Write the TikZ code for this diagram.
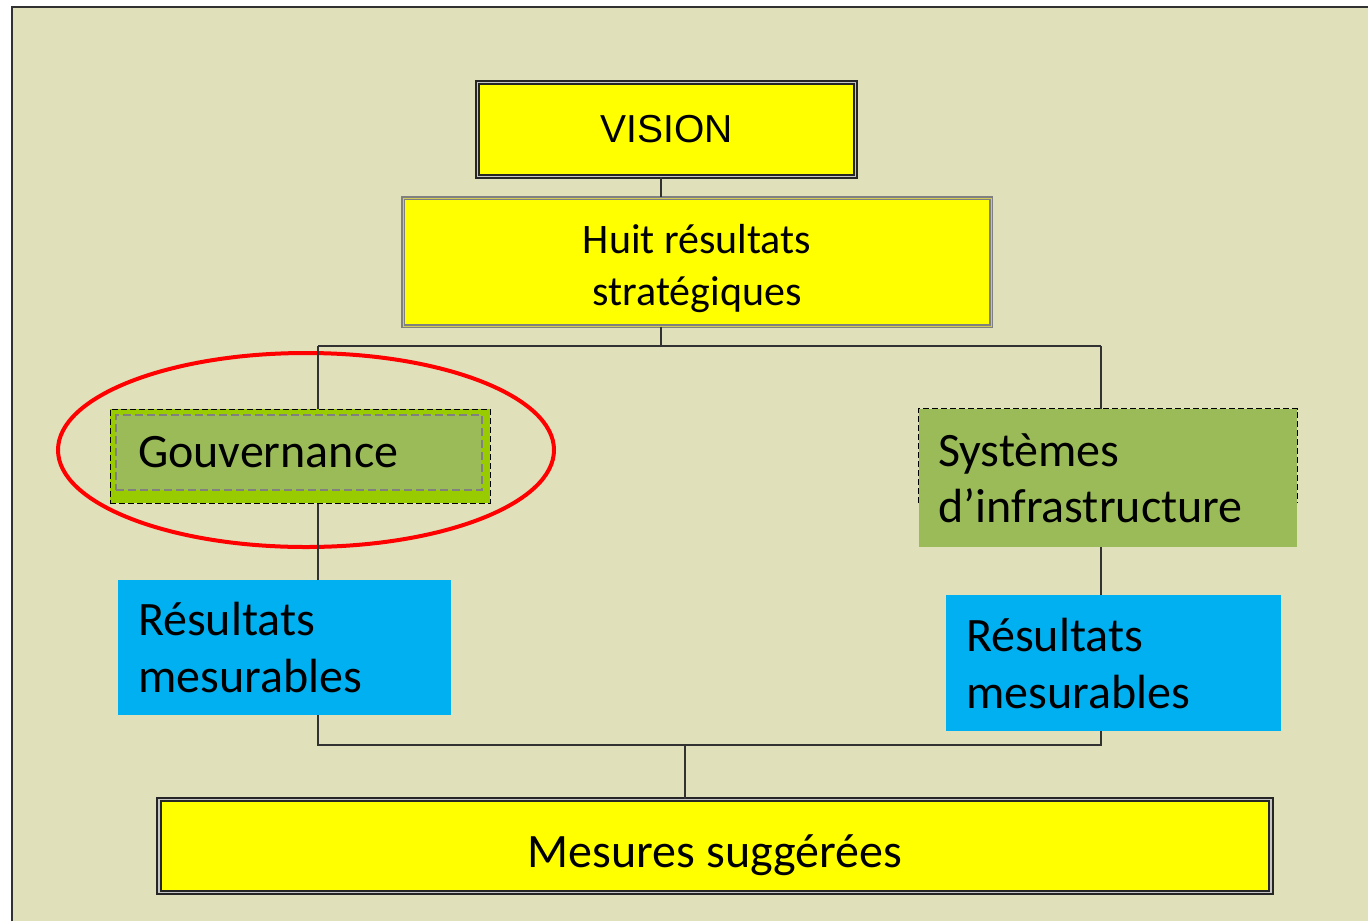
\documentclass[tikz,border=0pt]{standalone}
\usepackage{fontspec}
\setmainfont{Carlito}
\newfontfamily\visionfont{Liberation Sans}
\usetikzlibrary{shapes.geometric}
\definecolor{panel}{RGB}{224,224,187}
\definecolor{boxyellow}{RGB}{255,255,0}
\definecolor{boxgreen}{RGB}{155,187,89}
\definecolor{boxlime}{RGB}{153,204,0}
\definecolor{boxblue}{RGB}{0,176,240}
\definecolor{wirecol}{RGB}{50,50,50}

\begin{document}
\begin{tikzpicture}[x=0.5pt,y=-0.5pt,
  wire/.style={draw=wirecol,line width=0.8pt},
  yellowbox/.style={fill=boxyellow,draw=black!85,line width=0.9pt,double=gray!45,double distance=0.8pt,inner sep=0pt,align=center},
  bluebox/.style={fill=boxblue,inner ysep=0pt,inner xsep=10pt,align=left,font=\fontsize{24}{28.5}\selectfont},
  greenbox/.style={fill=boxgreen,inner ysep=0pt,align=left,font=\fontsize{24}{28}\selectfont}]
\useasboundingbox (0,0) rectangle (1368,921);
\fill[panel] (12,7) rectangle (1368,921);
\draw[wirecol,line width=1pt] (12,921) -- (12,7) -- (1368,7);

\node[yellowbox,minimum width=189pt,minimum height=47pt,font=\visionfont\fontsize{19.5}{23}\selectfont] (vision) at (666.5,129.5) {VISION};
\node[yellowbox,draw=gray,line width=0.6pt,double=yellow!60!gray,double distance=0.5pt,minimum width=294pt,minimum height=64pt,text height=43pt,text depth=0pt,font=\fontsize{21}{26}\selectfont] (huit) at (697,262) {Huit résultats\\stratégiques};

\node[fill=boxlime,draw=black,line width=0.5pt,dash pattern=on 3pt off 1.5pt,minimum width=190pt,minimum height=47pt,inner sep=0pt] (gouvbg) at (300,456) {};
\node[greenbox,draw=gray,line width=1pt,dash pattern=on 4pt off 2pt,inner xsep=11pt,text width=161pt,minimum height=37.5pt] (gouv) at (299,452.5) {Gouvernance};
\node[draw=red,ellipse,line width=2pt,minimum width=248pt,minimum height=97pt] (mark) at (306,450) {};

\node[greenbox,inner xsep=9.5pt,text width=170pt,minimum height=69pt] (sys) at (1108,478) {Systèmes\\d’infrastructure};
\coordinate (sysdash) at (0,503);
\draw[black,line width=0.5pt,dash pattern=on 3pt off 1.5pt] (sys.west |- sysdash) -- (sys.north west) -- (sys.north east) -- (sys.east |- sysdash);

\node[bluebox,text width=146.5pt,minimum height=67.5pt] (res1) at (284.5,647.5) {Résultats\\mesurables};
\node[bluebox,text width=147.5pt,minimum height=68pt] (res2) at (1113.5,663) {Résultats\\mesurables};

\node[yellowbox,minimum width=556pt,minimum height=46.5pt,text height=21pt,text depth=0pt,font=\fontsize{24}{28}\selectfont] (mes) at (715,846) {Mesures suggérées};

\coordinate (jtop) at (661,346);
\coordinate (jl) at (318,346);
\coordinate (jr) at (1101,346);
\coordinate (bl) at (318,745);
\coordinate (br) at (1101,745);
\coordinate (jbot) at (685,745);

\draw[wire] (vision.south -| jtop) -- (huit.north -| jtop);
\draw[wire] (huit.south -| jtop) -- (jtop);
\draw[wire] (jl) -- (jr);
\draw[wire] (jl) -- (gouvbg.north -| jl);
\draw[wire] (gouvbg.south -| jl) -- (res1.north -| jl);
\draw[wire] (res1.south -| bl) -- (bl) -- (br) -- (res2.south -| br);
\draw[wire] (jr) -- (sys.north -| jr);
\draw[wire] (sys.south -| jr) -- (res2.north -| jr);
\draw[wire] (jbot) -- (mes.north -| jbot);
\end{tikzpicture}
\end{document}
